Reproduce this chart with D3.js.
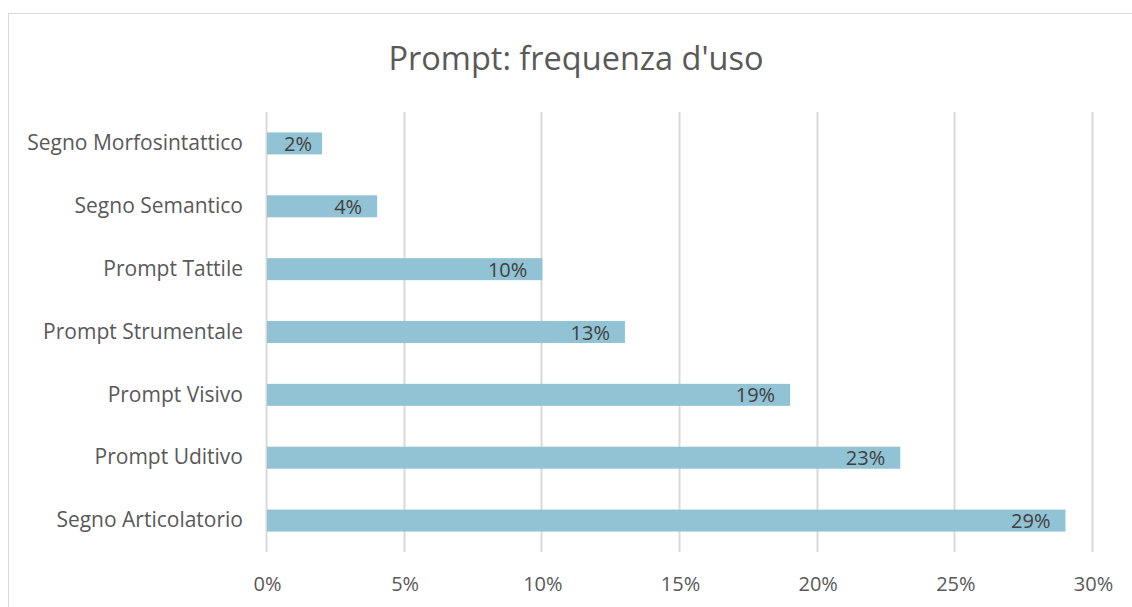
<!DOCTYPE html>
<html>
<head>
<meta charset="utf-8">
<script src="https://cdn.jsdelivr.net/npm/d3@7"></script>
<style>
  body { margin: 0; background: #fff; }
  #chart { width: 1132px; height: 607px; }
  text { font-family: "Open Sans", "Noto Sans", sans-serif; fill: #595959; }
</style>
</head>
<body>
<div id="chart"></div>
<script>
/* DATA */
const categories = ["Segno Morfosintattico", "Segno Semantico", "Prompt Tattile",
  "Prompt Strumentale", "Prompt Visivo", "Prompt Uditivo", "Segno Articolatorio"];
const values = [2, 4, 10, 13, 19, 23, 29];
const ticks = [0, 5, 10, 15, 20, 25, 30];

const width = 1132, height = 607;
const margin = {top: 112, left: 267, right: 39, bottom: 55};

const svg = d3.select("#chart").append("svg")
  .attr("width", width).attr("height", height);

/* chart border */
svg.append("rect")
  .attr("x", 8.5).attr("y", 13.5)
  .attr("width", width + 10).attr("height", height)
  .attr("fill", "#fff").attr("stroke", "#d9d9d9");

/* SCALES */
const xScale = d3.scaleLinear().domain([0, 30]).range([margin.left, width - margin.right]);
const yScale = d3.scaleBand().domain(categories)
  .range([margin.top, height - margin.bottom]).paddingInner(0.65).paddingOuter(0.325);

/* GRIDLINES */
svg.append("g").selectAll("line").data(ticks).enter().append("line")
  .attr("x1", d => Math.round(xScale(d)) - 0.5).attr("x2", d => Math.round(xScale(d)) - 0.5)
  .attr("y1", margin.top).attr("y2", height - margin.bottom)
  .attr("stroke", "#d9d9d9").attr("stroke-width", 2);

/* AXES */
const xAxis = svg.append("g")
  .attr("transform", `translate(0,${height - margin.bottom})`)
  .call(d3.axisBottom(xScale).tickValues(ticks).tickFormat(d => d + "%").tickSize(0).tickPadding(25));
xAxis.select(".domain").remove();
xAxis.selectAll("text").style("font-size", "20px").attr("fill", "#595959");

const yAxis = svg.append("g")
  .attr("transform", `translate(${margin.left},0)`)
  .call(d3.axisLeft(yScale).tickSize(0).tickPadding(24));
yAxis.select(".domain").remove();
yAxis.selectAll("text").style("font-size", "21px").attr("fill", "#595959");

/* BARS */
svg.selectAll("rect.bar").data(values).enter().append("rect")
  .attr("class", "bar")
  .attr("x", xScale(0))
  .attr("y", (d, i) => yScale(categories[i]))
  .attr("width", d => xScale(d) - xScale(0))
  .attr("height", yScale.bandwidth())
  .attr("fill", "#92c3d4");

/* LABELS */
svg.selectAll("text.lbl").data(values).enter().append("text")
  .attr("class", "lbl")
  .attr("x", d => xScale(d) - (d < 3 ? 10 : 15))
  .attr("y", (d, i) => yScale(categories[i]) + yScale.bandwidth() / 2)
  .attr("dy", "0.38em")
  .attr("text-anchor", "end")
  .style("font-size", "20px")
  .style("fill", "#404040")
  .text(d => d + "%");

/* TITLE */
svg.append("text")
  .attr("x", 576).attr("y", 70)
  .attr("text-anchor", "middle")
  .style("font-size", "32.5px")
  .text("Prompt: frequenza d'uso");
</script>
</body>
</html>
